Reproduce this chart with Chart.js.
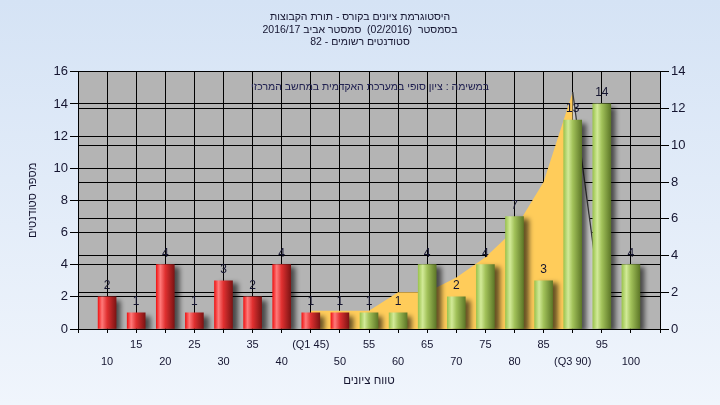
<!DOCTYPE html>
<html><head><meta charset="utf-8">
<script src="https://cdn.jsdelivr.net/npm/chart.js@4.4.0/dist/chart.umd.min.js"></script>
<style>html,body{margin:0;padding:0;background:#E2ECF8}#wrap{width:720px;height:405px}</style>
</head><body><div id="wrap"><canvas id="c" width="720" height="405"></canvas></div>
<script>
const titleLines = ['היסטוגרמת ציונים בקורס - תורת הקבוצות', 'בסמסטר  (02/2016)  סמסטר אביב 2016/17', 'סטודנטים רשומים - 82'];
const noteText = 'במשימה : ציון סופי במערכת האקדמית במחשב המרכזי';
const xTitle = 'טווח ציונים';
const yTitle = 'מספר סטודנטים';
const categories = ['10','15','20','25','30','35','40','(Q1 45)','50','55','60','65','70','75','80','85','(Q3 90)','95','100'];
const counts = [2,1,4,1,3,2,4,1,1,1,1,4,2,4,7,3,13,14,4];
const curve = [null,null,null,null,null,null,null,1,1,1,2,2,2.8,3.9,5.4,8,12.9,1,null];
const leftMax = 16, rightMax = 14, tickStep = 2;
const redUntil = '50';

const FONT = "'Liberation Sans', Arial, sans-serif";
const TXT = '#151530';
const BAR_W = 18;

// category labels staggered in two rows; empty slots at both ends
const labels = [''].concat(categories.map((c, i) => i % 2 === 0 ? ['', c] : [c, ''])).concat(['']);
const barData = [null].concat(counts).concat([null]);
const curveData = [null].concat(curve).concat([null]);
const redIndex = categories.indexOf(redUntil) + 1;

function barFill(c) {
  const chart = c.chart;
  if (!chart.chartArea || c.type !== 'data' || !chart.scales.x) return '#E03030';
  const x = chart.scales.x.getPixelForValue(c.dataIndex);
  const g = chart.ctx.createLinearGradient(x - BAR_W / 2, 0, x + BAR_W / 2, 0);
  if (c.dataIndex <= redIndex) {
    g.addColorStop(0, '#F01818');
    g.addColorStop(0.22, '#FF7A7A');
    g.addColorStop(0.5, '#E03030');
    g.addColorStop(1, '#7E1414');
  } else {
    g.addColorStop(0, '#9CC450');
    g.addColorStop(0.25, '#D2EA98');
    g.addColorStop(0.5, '#A2C25A');
    g.addColorStop(1, '#5E7828');
  }
  return g;
}

const bgPlugin = {
  id: 'bg',
  beforeDraw(chart) {
    const {ctx, chartArea: a} = chart;
    ctx.save();
    const g = ctx.createLinearGradient(0, 0, 0, chart.height);
    g.addColorStop(0, '#D5E3F5');
    g.addColorStop(1, '#F0F5FC');
    ctx.fillStyle = g;
    ctx.fillRect(0, 0, chart.width, chart.height);
    ctx.fillStyle = '#B4B4B4';
    ctx.fillRect(a.left, a.top, a.right - a.left, a.bottom - a.top);
    ctx.restore();
  }
};

const barStyle = {
  id: 'barStyle',
  beforeDatasetDraw(chart, args) {
    if (args.index !== 0) return;
    const ctx = chart.ctx;
    ctx.save();
    ctx.shadowColor = 'rgba(0,0,0,0.6)';
    ctx.shadowBlur = 5;
    ctx.shadowOffsetX = 5;
    ctx.shadowOffsetY = 3;
  },
  afterDatasetDraw(chart, args) {
    if (args.index !== 0) return;
    chart.ctx.restore();
  },
  afterDatasetsDraw(chart) {
    const ctx = chart.ctx;
    const meta = chart.getDatasetMeta(0);
    ctx.save();
    ctx.font = '12px ' + FONT;
    ctx.fillStyle = TXT;
    ctx.textAlign = 'center';
    ctx.textBaseline = 'middle';
    meta.data.forEach((el, i) => {
      if (barData[i] == null) return;
      ctx.fillText(String(barData[i]), el.x, el.y - 11);
    });
    const a = chart.chartArea;
    ctx.font = '10.5px ' + FONT;
    ctx.fillStyle = '#202050';
    ctx.fillText(noteText, (a.left + a.right) / 2 + 1, a.top + 15);
    ctx.restore();
  }
};

const down = c => c.p1.parsed.y < c.p0.parsed.y;

new Chart(document.getElementById('c'), {
  type: 'bar',
  data: {
    labels: labels,
    datasets: [
      {
        type: 'bar', data: barData, yAxisID: 'y', order: 1,
        backgroundColor: barFill, borderWidth: 0, barThickness: BAR_W
      },
      {
        type: 'line', data: curveData, yAxisID: 'y1', order: 2,
        fill: 'origin', backgroundColor: '#FFCC5A', borderColor: 'rgba(0,0,0,0)',
        borderWidth: 1.3, pointRadius: 0, tension: 0, spanGaps: false,
        segment: {
          borderColor: c => down(c) ? '#3a3a3a' : 'rgba(0,0,0,0)',
          backgroundColor: c => down(c) ? '#C8C8C8' : '#FFCC5A'
        }
      }
    ]
  },
  options: {
    responsive: false, animation: false, devicePixelRatio: 1,
    layout: {padding: 0},
    plugins: {
      legend: {display: false}, tooltip: {enabled: false},
      title: {display: true, text: titleLines, color: TXT,
        font: {family: FONT, size: 10.5, weight: 'normal', lineHeight: 1.2},
        padding: {top: 11, bottom: 23}}
    },
    scales: {
      x: {
        type: 'category', offset: false,
        grid: {offset: false, color: '#000', tickLength: 4, tickColor: '#000'},
        border: {color: '#000'},
        ticks: {autoSkip: false, maxRotation: 0, minRotation: 0, padding: 4, color: TXT,
          font: {family: FONT, size: 11, lineHeight: 1.5}},
        title: {display: true, text: xTitle, color: TXT, font: {family: FONT, size: 11.5}, padding: {top: 0, bottom: 17}},
        afterFit(s) { s.height = 76; }
      },
      y: {
        position: 'left', min: 0, max: leftMax,
        ticks: {stepSize: tickStep, padding: 2, color: TXT, font: {family: FONT, size: 13}},
        grid: {color: '#000', tickLength: 8, tickColor: '#000'},
        border: {color: '#000'},
        title: {display: true, text: yTitle, color: TXT, font: {family: FONT, size: 11}, padding: {top: 26, bottom: 0}},
        afterFit(s) { s.width = 78; }
      },
      y1: {
        position: 'right', min: 0, max: rightMax,
        ticks: {stepSize: tickStep, padding: 2, color: TXT, font: {family: FONT, size: 13}},
        grid: {color: '#000', tickLength: 9, tickColor: '#000'},
        border: {color: '#000'},
        afterFit(s) { s.width = 60; }
      }
    }
  },
  plugins: [bgPlugin, barStyle]
});
</script>
</body></html>
